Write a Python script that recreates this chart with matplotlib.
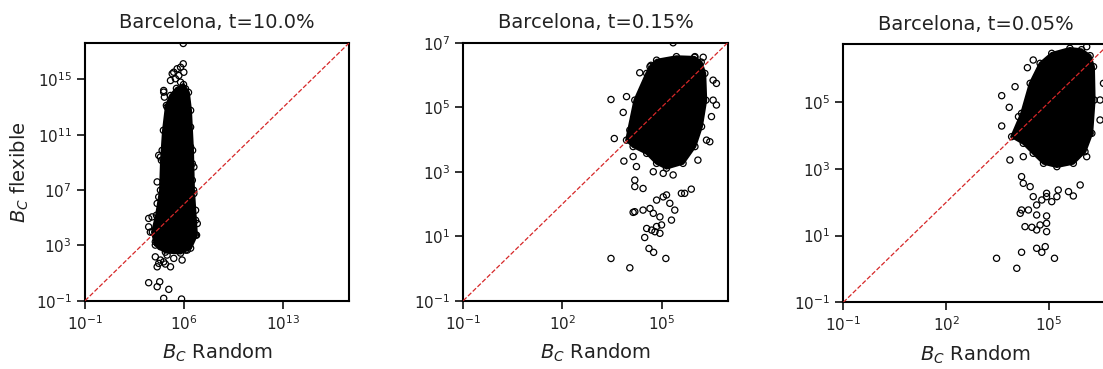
import numpy as np
import matplotlib
matplotlib.use('Agg')
import matplotlib.pyplot as plt
from matplotlib.ticker import NullLocator, LogFormatterSciNotation

plt.rcParams['font.family'] = ['DejaVu Sans']

# values are log10(B_C)
titles = ['Barcelona, t=10.0%', 'Barcelona, t=0.15%', 'Barcelona, t=0.05%']
lims = [17.65, 7.0, 6.74]
xticks = [[-1, 6, 13], [-1, 2, 5], [-1, 2, 5]]
yticks = [[-1, 3, 7, 11, 15], [-1, 1, 3, 5, 7], [-1, 1, 3, 5]]

# saturated (solid black) centre of each cloud, outline
core1_x = [5.03, 5.45, 5.95, 6.30, 6.45, 6.59, 6.66, 6.80, 6.87, 6.45, 5.74, 4.67, 3.96, 3.75, 4.04, 4.32, 4.39, 4.53, 4.74]
core1_y = [13.84, 14.35, 14.63, 14.06, 12.76, 9.87, 6.99, 4.82, 3.74, 2.80, 2.44, 2.51, 3.02, 3.96, 5.18, 6.99, 9.15, 11.32, 13.12]
core2_x = [3.94, 4.19, 4.55, 4.68, 4.85, 5.45, 6.00, 6.20, 6.31, 6.34, 6.21, 6.01, 5.65, 5.15, 4.85, 4.55, 4.14]
core2_y = [3.98, 5.22, 6.05, 6.30, 6.46, 6.57, 6.55, 6.40, 6.05, 5.22, 4.40, 3.78, 3.26, 3.11, 3.26, 3.57, 3.78]
core3_x = [3.91, 4.20, 4.45, 4.74, 5.08, 5.61, 5.95, 6.20, 6.30, 6.32, 6.25, 6.05, 5.71, 5.23, 4.84, 4.54, 4.25]
core3_y = [3.97, 4.67, 5.57, 6.17, 6.47, 6.62, 6.58, 6.40, 6.07, 5.07, 4.07, 3.52, 3.17, 3.07, 3.17, 3.47, 3.77]

# single points around the centre
pts1_x = [5.93, 5.93, 5.74, 5.50, 5.26, 5.15, 5.97, 5.62, 5.38, 5.03, 5.74, 4.55, 4.60, 6.09, 4.79,
          6.45, 6.21, 4.44, 4.32, 6.45, 6.57, 4.20, 4.55, 6.68, 6.57, 6.68, 6.80, 6.92, 4.09, 4.20,
          4.09, 3.49, 3.49, 3.73, 3.96, 4.32, 4.79, 5.26, 5.74, 6.09, 6.21, 3.96, 4.32, 4.79, 4.09,
          4.55, 5.26, 5.85, 5.03, 4.67, 4.20, 3.49, 4.09, 4.27, 4.91, 4.55, 5.81, 6.80, 3.61]
pts1_y = [17.6, 16.13, 15.88, 15.77, 15.52, 15.41, 15.52, 15.28, 15.05, 14.92, 14.80, 14.08, 13.72, 14.32, 13.0,
          11.55, 10.59, 9.87, 9.39, 10.11, 8.91, 9.51, 14.2, 8.67, 7.71, 6.75, 5.54, 4.58, 7.59, 6.50,
          6.03, 4.95, 4.34, 5.06, 3.26, 2.90, 2.78, 2.90, 3.02, 2.66, 2.66, 2.17, 1.94, 2.30, 1.45,
          1.81, 2.06, 1.94, 1.45, 1.65, 1.70, 0.30, 0.01, 0.37, -0.18, -0.83, -0.88, 3.74, 3.96]

pts2_x = [3.47, 3.94, 3.84, 3.57, 3.86, 4.34, 4.65, 4.55, 4.04, 4.14, 4.24, 4.19, 4.19, 4.44, 4.75,
          5.05, 5.35, 5.60, 5.70, 5.90, 6.10, 6.36, 6.46, 6.51, 6.56, 6.66, 6.56, 6.66, 6.26, 6.01,
          5.35, 4.19, 4.14, 4.44, 4.65, 4.85, 5.05, 5.15, 5.25, 5.40, 4.75, 4.95, 4.85, 4.55, 4.70,
          4.80, 4.95, 5.00, 5.30, 4.49, 4.62, 4.76, 3.47, 4.04, 5.13]
pts2_y = [5.24, 5.33, 4.84, 4.03, 3.33, 6.07, 6.26, 5.74, 4.29, 3.47, 3.16, 2.74, 2.54, 2.48, 3.00,
          2.95, 2.90, 2.33, 2.33, 2.46, 3.36, 3.98, 3.93, 4.71, 5.22, 5.74, 5.84, 5.07, 6.55, 6.57,
          7.0, 1.76, 1.74, 1.81, 1.86, 2.12, 2.22, 2.28, 2.02, 1.81, 1.71, 1.60, 1.30, 1.24, 1.19,
          1.14, 1.09, 1.35, 1.50, 0.96, 0.62, 0.50, 0.31, 0.02, 0.31]

pts3_x = [3.62, 3.84, 3.62, 3.86, 4.37, 4.54, 4.01, 4.11, 4.25, 4.20, 4.25, 4.45, 4.54, 4.93, 5.27,
          5.57, 5.71, 5.91, 6.10, 6.20, 6.49, 6.49, 6.59, 6.10, 4.20, 4.16, 4.40, 4.64, 4.79, 4.93,
          5.08, 5.23, 4.64, 4.93, 4.93, 4.74, 4.64, 4.30, 4.50, 4.93, 3.47, 4.20, 4.06, 4.64, 4.79,
          4.89, 5.16]
pts3_y = [5.20, 4.85, 4.29, 3.27, 6.04, 6.27, 5.47, 4.57, 3.37, 2.77, 2.57, 2.47, 2.17, 2.27, 2.37,
          2.32, 2.19, 2.52, 3.37, 4.07, 5.07, 4.47, 5.57, 6.67, 1.77, 1.67, 1.77, 1.92, 2.07, 2.17,
          2.02, 2.17, 1.62, 1.59, 1.37, 1.32, 1.17, 1.27, 1.25, 1.12, 0.32, 0.50, 0.02, 0.62, 0.50,
          0.67, 0.32]

cores = [(core1_x, core1_y), (core2_x, core2_y), (core3_x, core3_y)]
pts = [(pts1_x, pts1_y), (pts2_x, pts2_y), (pts3_x, pts3_y)]

fig = plt.figure(figsize=(11.03, 3.69), dpi=100)
boxes = [[0.0771, 0.1851, 0.2396, 0.699],
         [0.4200, 0.1851, 0.2397, 0.699],
         [0.7646, 0.1808, 0.2405, 0.699]]

for i in range(3):
    ax = fig.add_axes(boxes[i])
    cx, cy = cores[i]
    px, py = pts[i]
    ax.fill(10.0 ** np.array(cx), 10.0 ** np.array(cy), color='black', lw=2, zorder=2)
    ax.scatter(10.0 ** np.array(cx + px), 10.0 ** np.array(cy + py), s=20,
               facecolors='none', edgecolors='black', linewidths=0.9, zorder=3)
    top = 10.0 ** lims[i]
    ax.plot([0.1, top], [0.1, top], '--', color='#d62728', lw=0.9, zorder=4)
    ax.set_xscale('log')
    ax.set_yscale('log')
    ax.set_xlim(0.1, top)
    ax.set_ylim(0.1, top)
    ax.set_xticks([10.0 ** t for t in xticks[i]])
    ax.set_yticks([10.0 ** t for t in yticks[i]])
    ax.xaxis.set_major_formatter(LogFormatterSciNotation())
    ax.yaxis.set_major_formatter(LogFormatterSciNotation())
    ax.xaxis.set_minor_locator(NullLocator())
    ax.yaxis.set_minor_locator(NullLocator())
    ax.tick_params(labelsize=11, length=5.5, width=1.3, pad=4, colors='#222222')
    for s in ax.spines.values():
        s.set_linewidth(1.5)
    ax.set_title(titles[i], fontsize=14, pad=10.5, color='#222222')
    ax.set_xlabel('$B_C$ Random', fontsize=14, labelpad=6.5, color='#222222')
    if i == 0:
        ax.set_ylabel('$B_C$ flexible', fontsize=14, labelpad=3, color='#222222')

fig.savefig('out.png', dpi=100)
